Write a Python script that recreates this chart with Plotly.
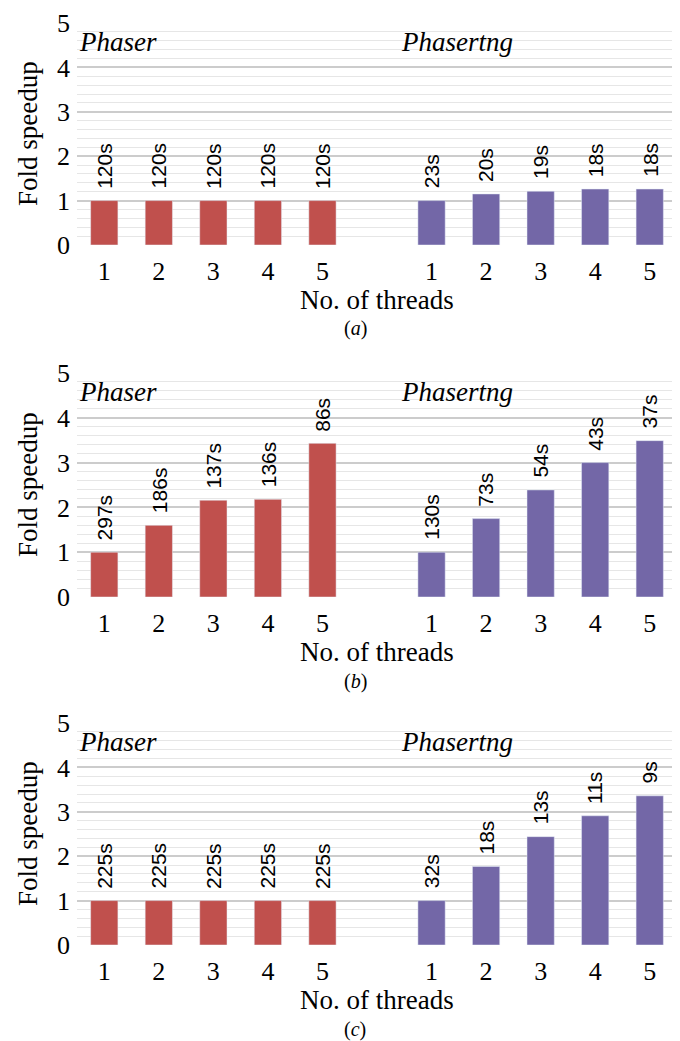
import plotly.graph_objects as go

# page body adds an 8px margin; figure sized to fit the 680x1041 window
OFF = 8
W, H = 680 - OFF, 1041 - OFF

thread_labels = ["1", "2", "3", "4", "5"]
phaser_slots = [0, 1, 2, 3, 4]
phasertng_slots = [6, 7, 8, 9, 10]

# panel (a)
a_phaser = [1.0, 1.0, 1.0, 1.0, 1.0]
a_phaser_txt = ["120s", "120s", "120s", "120s", "120s"]
a_tng = [1.0, 1.15, 1.21, 1.26, 1.26]
a_tng_txt = ["23s", "20s", "19s", "18s", "18s"]

# panel (b)
b_phaser = [1.0, 1.60, 2.16, 2.18, 3.43]
b_phaser_txt = ["297s", "186s", "137s", "136s", "86s"]
b_tng = [1.0, 1.75, 2.39, 3.0, 3.49]
b_tng_txt = ["130s", "73s", "54s", "43s", "37s"]

# panel (c)
c_phaser = [1.0, 1.0, 1.0, 1.0, 1.0]
c_phaser_txt = ["225s", "225s", "225s", "225s", "225s"]
c_tng = [1.0, 1.77, 2.44, 2.91, 3.36]
c_tng_txt = ["32s", "18s", "13s", "11s", "9s"]

captions = ["a", "b", "c"]

RED = "#C0504D"
PURPLE = "#7367A7"
SERIF = "Liberation Serif"
SANS = "Liberation Sans"

panels = [
    (a_phaser, a_phaser_txt, a_tng, a_tng_txt),
    (b_phaser, b_phaser_txt, b_tng, b_tng_txt),
    (c_phaser, c_phaser_txt, c_tng, c_tng_txt),
]

# plot areas in window pixels (top, bottom)
py = [(23, 245), (373, 597), (723, 945)]
px_left, px_right = 77, 677


def fx(p):
    return (p - OFF) / W


def fy(p):
    return 1 - (p - OFF) / H


fig = go.Figure()
annotations = []

for i, (ph, ph_t, tg, tg_t) in enumerate(panels):
    n = "" if i == 0 else str(i + 1)
    xa, ya = "x" + n, "y" + n
    fig.add_trace(go.Bar(x=phaser_slots, y=ph, marker_color=RED, width=0.5,
                         xaxis=xa, yaxis=ya, showlegend=False, hoverinfo="skip"))
    fig.add_trace(go.Bar(x=phasertng_slots, y=tg, marker_color=PURPLE, width=0.5,
                         xaxis=xa, yaxis=ya, showlegend=False, hoverinfo="skip"))
    for xs, ys, ts in ((phaser_slots, ph, ph_t), (phasertng_slots, tg, tg_t)):
        for xv, yv, tv in zip(xs, ys, ts):
            annotations.append(dict(x=xv, y=yv, xref=xa, yref=ya, text=tv,
                                    showarrow=False, textangle=-90,
                                    xanchor="center", yanchor="bottom", yshift=10,
                                    font=dict(family=SANS, size=21, color="black")))
    annotations.append(dict(x=-0.5, y=4.57, xref=xa, yref=ya, text="<i>Phaser</i>",
                            showarrow=False, xanchor="left", yanchor="middle",
                            font=dict(family=SERIF, size=27, color="black")))
    annotations.append(dict(x=5.4, y=4.57, xref=xa, yref=ya, text="<i>Phasertng</i>",
                            showarrow=False, xanchor="left", yanchor="middle",
                            font=dict(family=SERIF, size=27, color="black")))
    top, bot = py[i]
    annotations.append(dict(x=fx((px_left + px_right) / 2), y=fy(bot + 55),
                            xref="paper", yref="paper", text="No. of threads",
                            showarrow=False, xanchor="center", yanchor="middle",
                            font=dict(family=SERIF, size=27, color="black")))
    annotations.append(dict(x=fx(355), y=fy(bot + 84),
                            xref="paper", yref="paper", text="(<i>" + captions[i] + "</i>)",
                            showarrow=False, xanchor="center", yanchor="middle",
                            font=dict(family=SERIF, size=20, color="black")))
    annotations.append(dict(x=fx(28), y=fy((top + bot) / 2),
                            xref="paper", yref="paper", text="Fold speedup",
                            showarrow=False, textangle=-90, xanchor="center", yanchor="middle",
                            font=dict(family=SERIF, size=27, color="black")))

    fig.update_layout(**{
        "xaxis" + n: dict(domain=[fx(px_left), fx(px_right)], range=[-0.5, 10.5],
                          tickvals=phaser_slots + phasertng_slots,
                          ticktext=thread_labels + thread_labels,
                          showgrid=False, zeroline=False, showline=False, ticks="",
                          ticklabelstandoff=8, automargin=False,
                          tickfont=dict(family=SERIF, size=26, color="black"),
                          anchor=ya, fixedrange=True),
        "yaxis" + n: dict(domain=[fy(bot), fy(top)], range=[0, 5],
                          tickvals=[0, 1, 2, 3, 4, 5],
                          showgrid=True, gridcolor="#cccccc", gridwidth=2,
                          zeroline=False, showline=False, ticks="",
                          ticklabelstandoff=6, automargin=False,
                          minor=dict(dtick=0.2, tick0=0, showgrid=True,
                                     gridcolor="#e6e6e6", gridwidth=1),
                          tickfont=dict(family=SERIF, size=26, color="black"),
                          anchor=xa, fixedrange=True),
    })

fig.update_layout(width=W, height=H, margin=dict(l=0, r=0, t=0, b=0, pad=0),
                  paper_bgcolor="white", plot_bgcolor="white",
                  bargap=0.5, annotations=annotations)

fig.write_html("out.html")
